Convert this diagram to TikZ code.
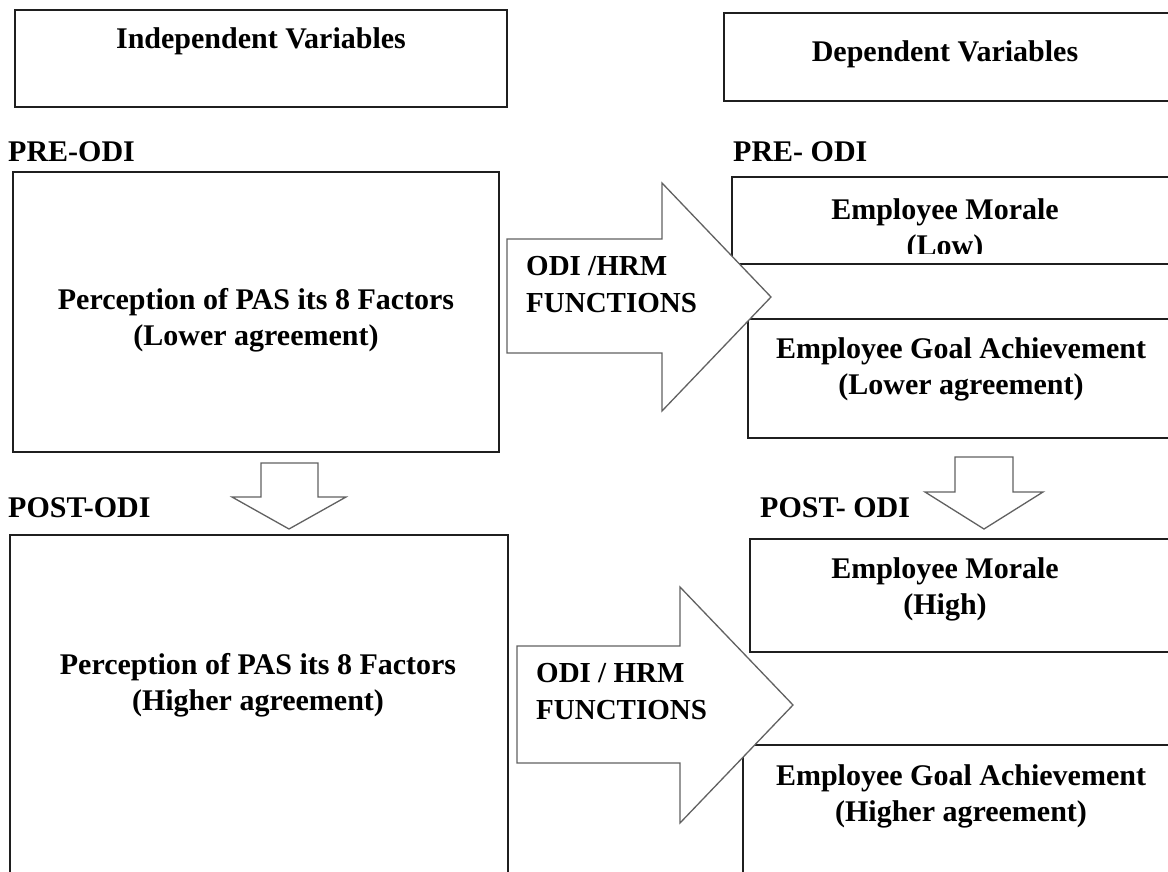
\documentclass[tikz,border=0pt]{standalone}
\usepackage{fontspec}
\setmainfont{Liberation Serif}
\begin{document}
\begin{tikzpicture}[x=1pt,y=-1pt,
  box/.style={draw=black!88, line width=1.6pt, fill=white, inner sep=0pt, outer sep=0pt, anchor=north west},
  blockarrow/.style={draw=black!62, line width=1.3pt, fill=white, line join=miter},
  txt/.style={font=\bfseries\fontsize{30}{36.5}\selectfont, align=center, inner sep=0pt, anchor=base},
  lbl/.style={font=\bfseries\fontsize{30}{36}\selectfont, inner sep=0pt, anchor=base west},
  arrtxt/.style={font=\bfseries\fontsize{29}{37.5}\selectfont, align=left, inner sep=0pt, anchor=base west}]
\useasboundingbox (0,0) rectangle (1168,872);
\fill[white] (0,0) rectangle (1168,872);
\clip (0,0) rectangle (1168,872);

% ---------- left column ----------
\node[box, minimum width=492pt, minimum height=97pt] (ivbox) at (15,10) {};
\node[txt] (ivtxt) at (261,49) {Independent Variables};

\node[lbl] (preL) at (8,162) {PRE-ODI};
\node[box, minimum width=486pt, minimum height=280pt] (prebox) at (13,172) {};
\node[txt] (pretxt) at (256,345.5) {Perception of PAS its 8 Factors\\(Lower agreement)};

\node[lbl] (postL) at (8,517) {POST-ODI};
\node[box, minimum width=498pt, minimum height=400pt] (postbox) at (10,535) {};
\node[txt] (posttxt) at (258,710.5) {Perception of PAS its 8 Factors\\(Higher agreement)};

% ---------- right column ----------
\node[box, minimum width=500pt, minimum height=88pt] (dvbox) at (724,13) {};
\node[txt] (dvtxt) at (945,62) {Dependent Variables};

\node[lbl] (preR) at (733,162) {PRE- ODI};
\node[box, minimum width=480pt, minimum height=87pt] (moraleA) at (732,177) {};
\begin{scope}
  \clip (732,177) rectangle (1168,253);
  \node[txt] (moraleAtxt) at (945,255.5) {Employee Morale\\(Low)};
\end{scope}
\node[box, minimum width=480pt, minimum height=119pt] (goalA) at (748,319) {};
\node[txt] (goalAtxt) at (961,394.5) {Employee Goal Achievement\\(Lower agreement)};

\node[lbl] (postR) at (760,517) {POST- ODI};
\node[box, minimum width=480pt, minimum height=113pt] (moraleB) at (750,539) {};
\node[txt] (moraleBtxt) at (945,614.5) {Employee Morale\\(High)};
\node[box, minimum width=480pt, minimum height=200pt] (goalB) at (743,745) {};
\node[txt] (goalBtxt) at (961,821.5) {Employee Goal Achievement\\(Higher agreement)};

% ---------- block arrows ----------
\draw[blockarrow] (507,239) -- (662,239) -- (662,183) -- (771,297) -- (662,411) -- (662,353) -- (507,353) -- cycle;
\node[arrtxt] (arrAtxt) at (526,312.5) {ODI /HRM\\FUNCTIONS};

\draw[blockarrow] (517,646) -- (680,646) -- (680,587) -- (793,705) -- (680,823) -- (680,763) -- (517,763) -- cycle;
\node[arrtxt] (arrBtxt) at (536,719.5) {ODI / HRM\\FUNCTIONS};

\draw[blockarrow] (261,463) -- (318,463) -- (318,497) -- (346,497) -- (289,529) -- (232,497) -- (261,497) -- cycle;
\draw[blockarrow] (955,457) -- (1013,457) -- (1013,492) -- (1043,492) -- (984,529) -- (925,492) -- (955,492) -- cycle;
\end{tikzpicture}
\end{document}
